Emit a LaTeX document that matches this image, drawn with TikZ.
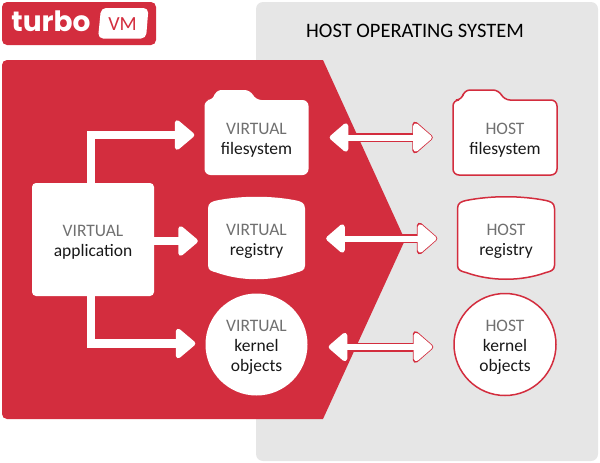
\documentclass[tikz,border=0pt]{standalone}
\usepackage{fontspec}
\setmainfont{Carlito}
\newfontfamily\logofont{Poppins}
\usetikzlibrary{arrows.meta,backgrounds}

\definecolor{turbored}{HTML}{D32D3E}
\definecolor{hostgray}{HTML}{E6E6E6}
\definecolor{litegray}{HTML}{707070}
\newcommand{\lite}[1]{{\color{litegray}\rule{0pt}{17pt}#1}}

\tikzset{
	label/.style = {align=center, inner sep=0pt, text=black!90, font=\fontsize{17.5}{20}\selectfont},
	filebox/.style = {label, minimum width=104pt, minimum height=75pt},
	regbox/.style = {label, minimum width=97pt, minimum height=83pt},
	objcircle/.style = {label, circle, minimum size=102pt},
	virtual/.style = {fill=white},
	host/.style = {draw=turbored, fill=white, line width=1.5pt},
	pics/folder/.style = {code={
		\path[pic actions, rounded corners=6pt] (-52,37.5) -- (-52,-37.5) -- (-43,-37.5) -- (-41,-47.5)
			-- (-6,-47.5) -- (-1,-37.5) -- (52,-37.5) -- (52,37.5) -- cycle;
	}},
	pics/barrel/.style = {code={
		\path[pic actions] (-48.5,-30) .. controls (-48.5,-36) and (-44,-37) .. (-40,-38)
			.. controls (-15,-43) and (15,-43) .. (40,-38)
			.. controls (44,-37) and (48.5,-36) .. (48.5,-30)
			-- (48.5,27) .. controls (48.5,32) and (44,33) .. (40,34)
			.. controls (15,43) and (-15,43) .. (-40,34)
			.. controls (-44,33) and (-48.5,32) .. (-48.5,27) -- cycle;
	}},
	flow/.style = {draw=white, line width=8.5pt, shorten >=10pt,
		-{Triangle[length=21pt, width=34pt, line width=5pt, round]}},
	syncback/.style = {draw=turbored, line width=9pt, shorten >=20pt, shorten <=20pt,
		{Triangle[length=22pt, width=37pt, line width=7pt, round]}-{Triangle[length=22pt, width=37pt, line width=7pt, round]}},
	sync/.style = {draw=white, line width=6pt, shorten >=21pt, shorten <=21pt,
		{Triangle[length=20pt, width=33pt, line width=5pt, round]}-{Triangle[length=20pt, width=33pt, line width=5pt, round]}}
}

\begin{document}
\begin{tikzpicture}[x=1pt, y=-1pt]

	\useasboundingbox (0,0) rectangle (600,463);

	\node[filebox] (vfs) at (256.5,137.5) {\lite{VIRTUAL}\\filesystem};
	\node[regbox] (vreg) [below of=vfs, node distance=101pt] {\lite{VIRTUAL}\\registry};
	\node[objcircle, virtual] (vobj) [below of=vreg, node distance=106pt] {\lite{VIRTUAL}\\kernel\\objects};

	\node[filebox] (hfs) [right of=vfs, node distance=248.5pt] {\lite{HOST}\\filesystem};
	\node[regbox] (hreg) [right of=vreg, node distance=249.5pt] {\lite{HOST}\\registry};
	\node[objcircle, host] (hobj) [right of=vobj, node distance=248.5pt] {\lite{HOST}\\kernel\\objects};

	\node[label, fill=white, rounded corners=4pt, minimum width=122pt, minimum height=113pt] (app) at (93,239.5) {\lite{VIRTUAL}\\application};

	\node[font=\fontsize{20.5}{20}\selectfont, inner sep=0pt] (title) at (415,31) {HOST OPERATING SYSTEM};
	\node[fill=turbored, rounded corners=5pt, minimum width=154pt, minimum height=43pt, inner sep=0pt] (logo) at (79,23.5) {};
	\node[text=white, inner sep=0pt, font=\logofont\bfseries\fontsize{28}{28}\selectfont] (turbo) at (51,21) {turbo};

	\begin{scope}[on background layer]
		\fill[hostgray, rounded corners=7pt] (256,2) rectangle (598,461);
		\fill[turbored] (323,60) -- (405,240) -- (323,419) -- (7,419) arc[start angle=90, end angle=180, radius=5]
			-- (2,65) arc[start angle=180, end angle=270, radius=5] -- cycle;
		\pic[virtual] at (vfs) {folder};
		\pic[virtual] at (vreg) {barrel};
		\pic[host] at (hfs) {folder};
		\pic[host] at (hreg) {barrel};
	\end{scope}

	\fill[white, rounded corners=5pt] (101,8) -- (148.5,8) -- (146,38.5) -- (98,38.5) -- cycle;
	\node[text=turbored, inner sep=0pt, font=\fontsize{20}{20}\selectfont] (vm) at (122.5,24) {VM};

	\draw[flow] ([xshift=-2pt]app.north) |- ([yshift=2.5pt]vfs.west);
	\draw[flow] ([yshift=-1.5pt]app.east) -- ([yshift=-2.5pt]vreg.west);
	\draw[flow] ([xshift=-2pt]app.south) |- ([yshift=1pt]vobj.west);

	\draw[syncback] (vfs.east) -- (hfs.west);
	\draw[sync] (vfs.east) -- (hfs.west);
	\draw[syncback] (vreg.east) -- (hreg.west);
	\draw[sync] (vreg.east) -- (hreg.west);
	\draw[syncback] ([yshift=-2.5pt]vobj.east) -- ([yshift=-2.5pt]hobj.west);
	\draw[sync] ([yshift=-2.5pt]vobj.east) -- ([yshift=-2.5pt]hobj.west);

\end{tikzpicture}
\end{document}
